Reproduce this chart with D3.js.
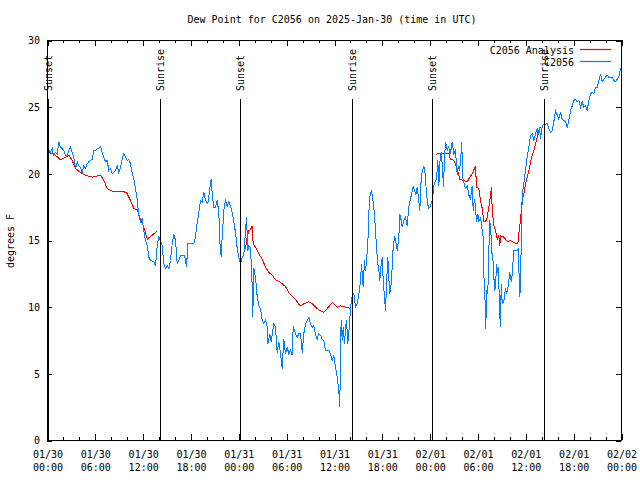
<!DOCTYPE html>
<html><head><meta charset="utf-8">
<script src="https://cdn.jsdelivr.net/npm/d3@7"></script>
<style>
body{margin:0;background:#fff}
svg{display:block}
text{font-family:"DejaVu Sans Mono",monospace;font-size:10px;fill:#000}
</style>
</head><body>
<svg id="c" width="640" height="480"></svg>
<script>
// ---------- DATA ----------
const title = "Dew Point for C2056 on 2025-Jan-30 (time in UTC)";
const yLabel = "degrees F";
const seriesNames = ["C2056 Analysis", "C2056"];
const startUTC = Date.UTC(2025, 0, 30); // hours below are offsets from 2025-01-30 00:00 UTC
const yTicks = [0, 5, 10, 15, 20, 25, 30];
const xMajorHours = [0, 6, 12, 18, 24, 30, 36, 42, 48, 54, 60, 66, 72];
const xMinorHours = [2, 4, 8, 10, 14, 16, 20, 22, 26, 28, 32, 34, 38, 40, 44, 46, 50, 52, 56, 58, 62, 64, 68, 70];
const sunsetHours = [0.1, 24.1, 48.2];
const sunriseHours = [14.17, 38.17, 62.22];
const markerTopValue = 25.6;

// C2056 Analysis [hour, dew point F]; null = gap
const analysis = [[0.04,21.6],[0.79,21.5],[1.63,21.05],[2.26,21.25],[2.67,21.4],[3.10,21.0],[3.51,20.4],[4.14,20.1],[4.77,19.9],[5.61,19.75],[6.02,19.8],[6.65,19.9],[7.06,19.5],[7.49,18.9],[8.12,18.7],[9.57,18.65],[9.91,18.6],[10.41,18.0],[10.83,17.4],[11.25,17.3],[11.67,16.6],[12.08,16.0],[12.51,15.1],[13.13,15.4],[13.76,15.7],[14.0,null],
[24.62,14.4],[24.84,14.4],[25.05,15.25],[25.25,15.75],[25.46,15.8],[25.68,16.1],[25.80,14.75],[26.09,14.5],[26.51,14.0],[26.93,13.6],[27.35,13.0],[27.76,12.6],[28.19,12.4],[28.60,12.05],[29.01,11.95],[29.44,11.75],[29.85,11.55],[30.27,11.1],[30.70,10.8],[31.11,10.6],[31.52,10.2],[31.74,10.1],[32.15,10.25],[32.78,10.4],[33.20,10.25],[33.62,10.0],[34.03,9.8],[34.66,9.6],[35.09,9.9],[35.71,10.35],[36.34,10.0],[36.75,10.1],[37.38,10.0],[38.10,9.9],[38.2,null],
[48.67,21.4],[48.88,21.5],[50.34,21.5],[50.55,21.1],[50.97,21.0],[51.39,20.4],[51.72,19.6],[52.15,19.5],[52.65,19.4],[52.97,19.75],[53.27,20.0],[53.69,20.6],[53.81,19.0],[54.10,18.9],[54.32,18.0],[54.53,17.4],[54.73,16.4],[54.94,16.4],[55.16,16.75],[55.36,17.5],[55.57,18.4],[55.70,19.0],[55.78,17.25],[55.99,16.1],[56.20,15.75],[56.41,15.1],[56.61,15.35],[56.74,14.6],[56.82,15.35],[57.16,15.3],[57.45,15.1],[57.74,14.9],[57.99,15.0],[58.29,14.9],[58.71,14.8],[59.00,14.75],[59.12,15.5],[59.33,16.5],[59.55,18.1],[59.75,18.5],[59.96,19.25],[60.17,19.75],[60.38,20.25],[60.59,20.9],[60.80,21.4],[61.00,21.75],[61.22,22.25],[61.43,22.75],[61.63,23.25],[61.84,23.5]];

// C2056 observations [hour, dew point F]
const observed = [[0.04,21.9],[0.38,21.6],[0.59,21.9],[0.72,21.4],[1.00,21.6],[1.22,21.5],[1.42,22.4],[1.63,22.0],[1.84,21.9],[2.04,21.75],[2.26,21.4],[2.47,21.4],[2.67,21.75],[2.89,22.0],[3.10,21.6],[3.30,21.25],[3.51,20.4],[3.73,20.9],[3.93,20.6],[4.14,20.5],[4.35,20.1],[4.55,20.6],[4.77,20.4],[4.98,20.75],[5.18,20.9],[5.39,21.0],[5.61,21.1],[5.81,21.75],[6.02,21.75],[6.23,21.9],[6.44,21.9],[6.65,22.05],[6.86,21.6],[7.06,21.25],[7.28,20.9],[7.49,21.0],[7.69,20.25],[7.90,20.4],[8.12,20.0],[8.32,20.1],[8.53,20.25],[8.74,20.6],[8.94,20.1],[9.16,20.5],[9.37,21.1],[9.57,21.5],[9.78,21.25],[10.00,21.0],[10.20,21.1],[10.41,20.75],[10.62,20.1],[10.83,19.6],[11.04,18.9],[11.25,18.1],[11.45,16.9],[11.67,16.4],[11.88,16.6],[12.08,15.75],[12.29,15.0],[12.51,14.6],[12.71,13.75],[12.92,13.5],[13.33,13.4],[13.55,13.1],[13.76,14.6],[13.96,15.25],[14.17,15.0],[14.39,14.6],[14.59,13.25],[14.80,12.9],[15.01,13.1],[15.22,12.9],[15.43,13.5],[15.64,14.75],[15.84,15.5],[16.06,15.0],[16.27,13.25],[16.47,13.5],[16.68,13.9],[16.90,13.9],[17.19,13.9],[17.44,13.0],[17.60,14.75],[17.94,14.75],[18.35,14.75],[18.57,15.25],[18.69,16.0],[18.85,16.6],[18.98,17.1],[19.19,18.0],[19.41,17.9],[19.61,18.6],[19.73,18.2],[19.94,17.9],[20.11,17.75],[20.36,18.9],[20.53,19.6],[20.66,18.5],[20.86,17.5],[21.07,17.5],[21.29,18.0],[21.49,17.1],[21.61,14.9],[21.79,13.75],[21.91,15.25],[22.12,17.25],[22.33,18.1],[22.54,17.5],[22.74,17.9],[22.96,17.6],[23.17,17.1],[23.37,16.4],[23.58,15.6],[23.80,14.4],[24.00,13.75],[24.21,13.25],[24.42,13.75],[24.62,13.9],[24.84,15.75],[24.96,16.75],[25.13,14.25],[25.25,14.6],[25.46,14.5],[25.68,11.5],[25.75,9.25],[25.88,12.9],[26.09,12.25],[26.31,10.75],[26.51,10.1],[26.72,9.9],[26.93,9.0],[27.13,8.75],[27.35,9.0],[27.56,8.5],[27.64,7.25],[27.89,8.0],[28.06,7.4],[28.26,8.25],[28.39,8.75],[28.60,8.5],[28.81,6.6],[29.01,7.4],[29.23,6.5],[29.44,5.4],[29.64,7.6],[29.85,6.5],[30.07,7.0],[30.27,6.5],[30.48,6.75],[30.70,6.4],[30.82,8.6],[31.11,8.0],[31.32,7.75],[31.52,8.0],[31.74,8.0],[31.95,6.6],[32.15,8.0],[32.36,8.75],[32.58,9.0],[32.78,9.25],[32.99,8.75],[33.20,8.5],[33.41,8.6],[33.62,7.9],[33.83,7.6],[34.03,8.0],[34.25,7.9],[34.46,7.6],[34.66,7.5],[34.87,6.75],[35.29,6.75],[35.50,6.5],[35.71,6.0],[35.91,6.4],[36.13,5.5],[36.34,4.75],[36.54,3.75],[36.67,2.5],[36.75,7.0],[36.84,9.0],[36.97,7.5],[37.09,8.5],[37.26,7.25],[37.38,8.5],[37.51,9.0],[37.67,7.25],[37.85,8.5],[38.01,9.9],[38.17,10.75],[38.42,11.0],[38.64,10.0],[38.85,10.25],[39.05,10.9],[39.26,12.0],[39.39,13.25],[39.60,11.5],[39.76,13.5],[39.89,12.75],[40.02,13.5],[40.18,14.75],[40.30,17.0],[40.43,18.25],[40.61,18.75],[40.73,18.4],[40.93,17.5],[41.06,16.5],[41.27,14.5],[41.43,13.25],[41.56,12.75],[41.68,12.0],[41.86,13.25],[41.99,13.75],[42.11,12.0],[42.27,10.75],[42.40,9.75],[42.53,11.75],[42.69,13.75],[42.81,12.25],[42.94,11.0],[43.11,11.75],[43.24,13.0],[43.36,14.5],[43.53,15.25],[43.65,15.1],[43.87,14.25],[44.07,15.25],[44.19,17.0],[44.37,16.5],[44.49,16.0],[44.69,16.5],[44.91,16.75],[45.12,16.1],[45.32,17.5],[45.53,18.1],[45.75,18.75],[45.87,19.1],[46.04,18.75],[46.20,18.4],[46.38,19.0],[46.58,17.9],[46.70,17.25],[46.88,19.75],[47.04,20.25],[47.20,20.6],[47.33,20.25],[47.45,19.25],[47.63,18.0],[47.79,17.4],[47.96,17.5],[48.13,17.75],[48.29,18.1],[48.46,19.1],[48.63,19.4],[48.80,19.6],[48.96,21.0],[49.09,19.1],[49.21,20.9],[49.39,21.6],[49.55,20.4],[49.67,19.0],[49.80,21.25],[49.93,22.4],[50.14,21.75],[50.34,22.1],[50.46,21.4],[50.64,21.9],[50.77,22.4],[50.97,21.5],[51.18,21.75],[51.39,19.9],[51.52,20.6],[51.68,20.25],[51.81,20.9],[51.97,22.4],[52.06,19.75],[52.22,19.4],[52.43,18.9],[52.65,19.1],[52.85,18.4],[53.06,18.1],[53.27,19.1],[53.40,17.25],[53.56,18.1],[53.69,17.5],[53.81,16.4],[53.98,17.0],[54.10,16.4],[54.32,16.75],[54.53,15.75],[54.66,15.25],[54.73,12.5],[54.86,11.0],[54.98,8.4],[55.07,11.25],[55.23,11.0],[55.36,14.25],[55.48,16.5],[55.66,15.25],[55.78,13.75],[55.91,13.4],[56.07,11.25],[56.20,11.5],[56.32,13.25],[56.45,12.6],[56.57,13.0],[56.70,9.75],[56.82,8.5],[56.91,11.75],[57.04,10.25],[57.24,10.4],[57.45,11.4],[57.58,11.0],[57.74,11.4],[57.99,12.6],[58.17,11.9],[58.29,12.4],[58.49,14.25],[58.71,14.25],[58.92,14.25],[59.04,14.4],[59.25,10.75],[59.33,12.0],[59.55,18.5],[59.75,19.25],[59.96,20.25],[60.17,21.25],[60.38,22.0],[60.59,22.9],[60.80,23.0],[61.00,22.5],[61.22,23.0],[61.43,23.4],[61.55,22.9],[61.72,23.5],[61.84,22.6],[62.06,23.6],[62.26,23.7],[62.68,23.75],[62.89,23.4],[63.10,23.1],[63.31,23.25],[63.51,23.9],[63.72,24.75],[63.94,24.4],[64.14,24.1],[64.35,24.6],[64.56,24.1],[64.76,24.0],[64.98,23.9],[65.19,23.5],[65.39,24.0],[65.61,24.75],[65.82,25.1],[66.02,25.5],[66.23,25.6],[66.45,25.4],[66.65,25.5],[66.86,25.0],[67.07,25.4],[67.27,25.0],[67.49,25.1],[67.70,24.75],[67.90,25.5],[68.11,26.0],[68.33,26.1],[68.53,26.0],[68.74,26.5],[68.95,26.5],[69.16,27.0],[69.37,27.5],[69.58,26.9],[69.78,27.1],[69.99,27.25],[70.21,27.4],[70.41,27.25],[70.62,27.25],[70.83,27.25],[71.04,27.0],[71.25,26.9],[71.46,27.1],[71.66,27.25],[71.88,27.9],[71.96,27.9]];

const colors = {analysis: "#ff0000", observed: "#0080ff"};

// ---------- CHART ----------
const toDate = h => new Date(startUTC + h * 3600e3);
const L = 47, R = 621, T = 40, B = 440;
const svg = d3.select("#c");
const x = d3.scaleUtc().domain([toDate(0), toDate(72)]).range([L + 0.5, R + 0.5]);
const y = d3.scaleLinear().domain([0, 30]).range([B + 0.5, T + 0.5]);

svg.append("text").attr("x", 332).attr("y", 23).attr("text-anchor", "middle").text(title);
svg.append("text").attr("transform", "translate(14,241) rotate(-90)").attr("text-anchor", "middle").text(yLabel);

// data lines
const line = d3.line().defined(d => d[1] != null).x(d => x(toDate(d[0]))).y(d => y(d[1]));
svg.append("path").datum(analysis).attr("d", line)
  .style("fill", "none").style("stroke", colors.analysis).style("stroke-width", 1).style("shape-rendering", "crispEdges");
svg.append("path").datum(observed).attr("d", line)
  .style("fill", "none").style("stroke", colors.observed).style("stroke-width", 1).style("shape-rendering", "crispEdges");

// axes (ticks drawn inward, mirrored)
const fmtDate = d3.utcFormat("%m/%d"), fmtTime = d3.utcFormat("%H:%M");
const gx = svg.append("g").attr("transform", `translate(0,${B})`)
  .call(d3.axisBottom(x).tickValues(xMajorHours.map(toDate)).tickSizeInner(-6).tickSizeOuter(0).tickFormat(fmtDate));
gx.selectAll(".tick text").each(function(d) {
  const t = d3.select(this).attr("dy", null).attr("y", null).text(null);
  t.append("tspan").attr("x", 0).attr("y", 18).text(fmtDate(d));
  t.append("tspan").attr("x", 0).attr("y", 31).text(fmtTime(d));
});
svg.append("g").attr("transform", `translate(0,${B})`)
  .call(d3.axisBottom(x).tickValues(xMinorHours.map(toDate)).tickSizeInner(-3).tickSizeOuter(0).tickFormat(""));
svg.append("g").attr("transform", `translate(0,${T})`)
  .call(d3.axisTop(x).tickValues(xMajorHours.map(toDate)).tickSizeInner(-6).tickSizeOuter(0).tickFormat(""));
svg.append("g").attr("transform", `translate(0,${T})`)
  .call(d3.axisTop(x).tickValues(xMinorHours.map(toDate)).tickSizeInner(-3).tickSizeOuter(0).tickFormat(""));
svg.append("g").attr("transform", `translate(${L},0)`)
  .call(d3.axisLeft(y).tickValues(yTicks).tickSizeInner(-5).tickSizeOuter(0).tickPadding(7).tickFormat(d3.format("d")));
svg.append("g").attr("transform", `translate(${R},0)`)
  .call(d3.axisRight(y).tickValues(yTicks).tickSizeInner(-5).tickSizeOuter(0).tickFormat(""));
svg.selectAll(".domain").remove();
svg.selectAll(".tick line").attr("stroke", "#000").attr("shape-rendering", "crispEdges");
svg.selectAll(".tick text").attr("font-family", null).attr("font-size", null).attr("fill", "#000");

// frame
svg.append("rect").attr("x", L + 0.5).attr("y", T + 0.5).attr("width", R - L).attr("height", B - T)
  .attr("fill", "none").attr("stroke", "#000").attr("shape-rendering", "crispEdges");

// sunrise / sunset markers
const events = sunsetHours.map(h => ({h, label: "Sunset"}))
  .concat(sunriseHours.map(h => ({h, label: "Sunrise"})));
events.forEach(e => {
  const px = Math.round(x(toDate(e.h))) + 0.5;
  svg.append("line").attr("x1", px).attr("x2", px).attr("y1", y(0)).attr("y2", y(markerTopValue))
    .attr("stroke", "#000").attr("shape-rendering", "crispEdges");
  svg.append("text").attr("transform", `translate(${px},91) rotate(-90)`)
    .attr("dy", "0.35em").text(e.label);
});

// legend
const legendItems = [{name: seriesNames[0], color: colors.analysis, ly: 49.5},
                     {name: seriesNames[1], color: colors.observed, ly: 61.5}];
legendItems.forEach(l => {
  svg.append("text").attr("x", 574).attr("y", l.ly + 4).attr("text-anchor", "end").text(l.name);
  svg.append("path").attr("d", `M580,${l.ly}H611`)
    .style("fill", "none").style("stroke", l.color).style("stroke-width", 1.2);
});
</script>
</body></html>
